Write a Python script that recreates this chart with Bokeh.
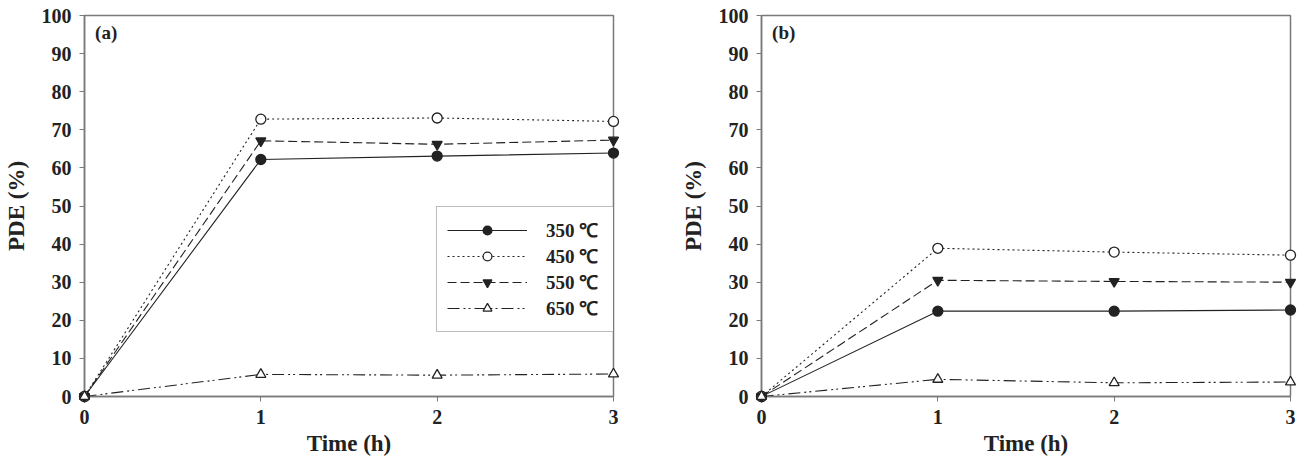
from bokeh.plotting import figure
from bokeh.layouts import row
from bokeh.models import Legend, LegendItem, Label, FixedTicker
from bokeh.embed import file_html
from bokeh.resources import INLINE

time_h = [0, 1, 2, 3]
labels = ["350 ℃", "450 ℃", "550 ℃", "650 ℃"]
a_350 = [0, 62.2, 63.1, 63.9]
a_450 = [0, 72.8, 73.1, 72.2]
a_550 = [0, 67.1, 66.2, 67.3]
a_650 = [0, 5.8, 5.6, 5.9]
b_350 = [0, 22.4, 22.4, 22.7]
b_450 = [0, 38.9, 37.9, 37.1]
b_550 = [0, 30.5, 30.2, 30.0]
b_650 = [0, 4.5, 3.6, 3.8]

FONT = "Liberation Serif"
INK = "#222222"
AXC = "#7a7a7a"

styles = [
    dict(dash="solid", marker="circle", fill=INK, size=10),
    dict(dash="2 3", marker="circle", fill="white", size=10),
    dict(dash="9 4", marker="inverted_triangle", fill=INK, size=10),
    dict(dash="12 4 2 3 2 4", marker="triangle", fill="white", size=10),
]


def make_panel(series, tag, width, left, right, with_legend):
    p = figure(width=width, height=462, x_range=(0, 3), y_range=(0, 100),
               output_backend="svg", toolbar_location=None,
               min_border_left=left, min_border_right=right,
               min_border_top=15, min_border_bottom=66)
    p.grid.visible = False
    p.outline_line_color = AXC
    p.outline_line_width = 1.5
    for ax in (p.xaxis[0], p.yaxis[0]):
        ax.axis_line_color = AXC
        ax.axis_line_width = 1.5
        ax.major_tick_line_color = AXC
        ax.major_tick_out = 5
        ax.major_tick_in = 0
        ax.minor_tick_line_color = None
        ax.major_label_text_font = FONT
        ax.major_label_text_font_style = "bold"
        ax.major_label_text_font_size = "20px"
        ax.major_label_text_color = INK
        ax.axis_label_text_font = FONT
        ax.axis_label_text_font_style = "bold"
        ax.axis_label_text_font_size = "23px"
        ax.axis_label_text_color = INK
    p.xaxis.ticker = FixedTicker(ticks=time_h)
    p.yaxis.ticker = FixedTicker(ticks=list(range(0, 101, 10)))
    p.xaxis.axis_label = "Time (h)"
    p.yaxis.axis_label = "PDE (%)"
    p.xaxis.major_label_standoff = 8
    p.yaxis.major_label_standoff = 8
    p.xaxis.axis_label_standoff = 4
    p.yaxis.axis_label_standoff = 10

    items = []
    for vals, st, lab in zip(series, styles, labels):
        lr = p.line(time_h, vals, line_color=INK, line_width=1.1, line_dash=st["dash"])
        sr = p.scatter(time_h, vals, marker=st["marker"], size=st["size"],
                       fill_color=st["fill"], line_color=INK, line_width=1.3,
                       level="overlay")
        items.append(LegendItem(label=lab, renderers=[lr, sr]))

    p.add_layout(Label(x=0.06, y=95.5, text=tag, text_font=FONT, text_font_style="bold",
                       text_font_size="19px", text_color=INK, text_baseline="middle"))

    if with_legend:
        leg = Legend(items=items, location=(352, 64), orientation="vertical",
                     glyph_width=80, glyph_height=22, label_standoff=19,
                     label_width=60,
                     label_text_font=FONT, label_text_font_style="bold",
                     label_text_font_size="19px", label_text_color=INK,
                     label_height=25, spacing=0, padding=10, margin=0,
                     border_line_color=AXC, border_line_width=1.5,
                     background_fill_color="white", background_fill_alpha=1.0)
        p.add_layout(leg, "center")
    return p


pa = make_panel([a_350, a_450, a_550, a_650], "(a)", 650, 81, 37, True)
pb = make_panel([b_350, b_450, b_550, b_650], "(b)", 655, 111, 15, False)

layout = row(pa, pb)
open("out.html", "w").write(file_html(layout, INLINE))
